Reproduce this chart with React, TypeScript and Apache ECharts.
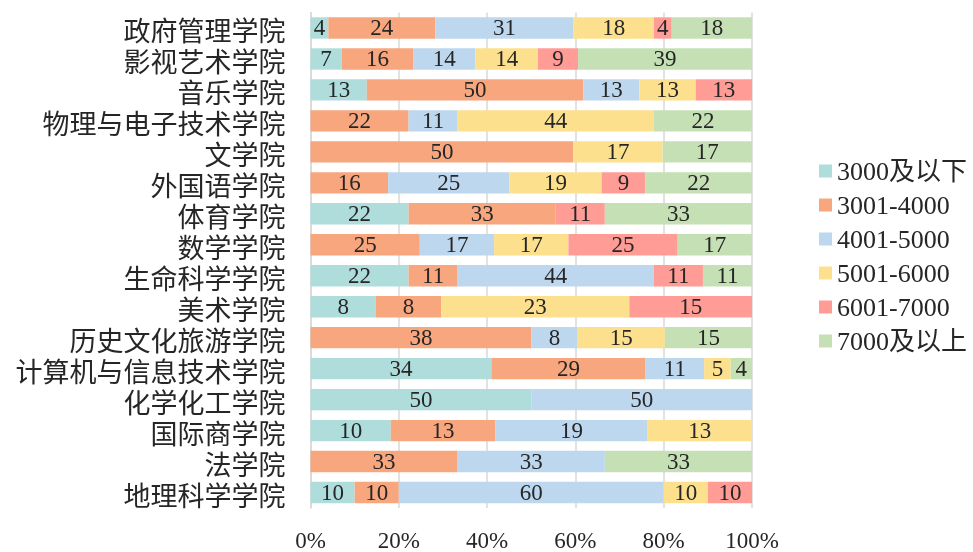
import React, { useEffect, useRef } from "react";
import * as echarts from "echarts";

const categories = [
  "政府管理学院", "影视艺术学院", "音乐学院", "物理与电子技术学院", "文学院", "外国语学院",
  "体育学院", "数学学院", "生命科学学院", "美术学院", "历史文化旅游学院",
  "计算机与信息技术学院", "化学化工学院", "国际商学院", "法学院", "地理科学学院",
];

const seriesNames = ["3000及以下", "3001-4000", "4001-5000", "5001-6000", "6001-7000", "7000及以上"];

const s3000Below = [4, 7, 13, 0, 0, 0, 22, 0, 22, 8, 0, 34, 50, 10, 0, 10];
const s3001to4000 = [24, 16, 50, 22, 50, 16, 33, 25, 11, 8, 38, 29, 0, 13, 33, 10];
const s4001to5000 = [31, 14, 13, 11, 0, 25, 0, 17, 44, 0, 8, 11, 50, 19, 33, 60];
const s5001to6000 = [18, 14, 13, 44, 17, 19, 0, 17, 0, 23, 15, 5, 0, 13, 0, 10];
const s6001to7000 = [4, 9, 13, 0, 0, 9, 11, 25, 11, 15, 0, 0, 0, 0, 0, 10];
const s7000Above = [18, 39, 0, 22, 17, 22, 33, 17, 11, 0, 15, 4, 0, 0, 33, 0];

const allSeries = [s3000Below, s3001to4000, s4001to5000, s5001to6000, s6001to7000, s7000Above];
const colors = ["#aedddb", "#f7a67e", "#bdd7ee", "#fce08e", "#ff9c96", "#c5e0b4"];

const FONT = "'Liberation Serif', 'Noto Sans CJK SC', serif";

export default function App() {
  const ref = useRef<HTMLDivElement>(null);
  useEffect(() => {
    if (!ref.current) return;
    const chart = echarts.init(ref.current, undefined, { renderer: "svg" });
    const rowSums = categories.map((_, i) => allSeries.reduce((a, s) => a + s[i], 0));
    const series = allSeries.map((arr, k) => ({
      name: seriesNames[k],
      type: "bar",
      stack: "total",
      barCategoryGap: "31%",
      itemStyle: { color: colors[k] },
      label: {
        show: true,
        position: "inside",
        color: "#262626",
        fontFamily: FONT,
        fontSize: 23,
        lineHeight: 23,
        formatter: (p: any) => (p.data && p.data.raw ? String(p.data.raw) : ""),
      },
      data: arr.map((v, i) => (v ? { value: (v / rowSums[i]) * 100, raw: v } : { value: null, raw: 0 })),
    }));
    chart.setOption({
      animation: false,
      grid: { left: 310.5, right: 221, top: 12.5, bottom: 40, containLabel: false },
      legend: {
        orient: "vertical",
        left: 814,
        top: 153,
        itemWidth: 13,
        itemHeight: 13,
        itemGap: 8,
        icon: "rect",
        textStyle: { fontFamily: FONT, fontSize: 26, lineHeight: 25, color: "#262626" },
        data: seriesNames,
      },
      xAxis: {
        type: "value",
        min: 0,
        max: 100,
        interval: 20,
        axisLine: { show: false },
        axisTick: { show: false },
        axisLabel: { formatter: "{value}%", fontFamily: FONT, fontSize: 23, color: "#262626", margin: 21 },
        splitLine: { show: true, lineStyle: { color: "#d9d9d9", width: 1.5 } },
      },
      yAxis: {
        type: "category",
        inverse: true,
        data: categories,
        axisLine: { show: true, lineStyle: { color: "#d9d9d9", width: 1.5 } },
        axisTick: { show: false },
        axisLabel: {
          interval: 0,
          margin: 25,
          formatter: (v: string) => `{a|${v}}`,
          rich: {
            a: {
              fontFamily: FONT,
              fontSize: 27,
              lineHeight: 27,
              color: "#262626",
              padding: [9, 0, 0, 0],
            },
          },
        },
      },
      series,
    });
    return () => chart.dispose();
  }, []);
  return <div ref={ref} style={{ position: "fixed", left: 0, top: 0, width: 973, height: 552 }} />;
}
